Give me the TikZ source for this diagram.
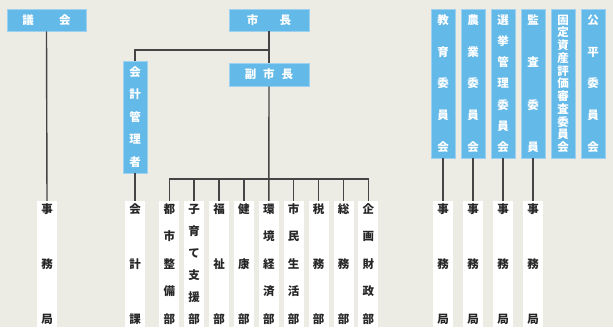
\documentclass[tikz,border=0pt]{standalone}
\usepackage{fontspec}
\newfontfamily\jp{Noto Sans CJK JP}
\definecolor{bg}{HTML}{EDECE4}
\definecolor{bl}{HTML}{63B9E8}
\definecolor{blb}{HTML}{9DD1EF}
\definecolor{ln}{HTML}{454545}
\ExplSyntaxOn
\tl_new:N \l_vs_chars_tl
\NewDocumentCommand\vstk{mm}{
  \tl_set:No \l_vs_chars_tl {#2}
  \vbox_to_ht:nn {#1} {
    \offinterlineskip
    \bool_set_true:N \l_tmpa_bool
    \tl_map_inline:Nn \l_vs_chars_tl {
      \bool_if:NF \l_tmpa_bool { \vfill }
      \bool_set_false:N \l_tmpa_bool
      \hbox_to_wd:nn {1em} { \hss \vrule~height~0.88em~depth~0.12em~width~0pt ##1 \hss }
    }
  }
}
\ExplSyntaxOff
\begin{document}
\begin{tikzpicture}[x=1pt,y=-1pt,
  font=\jp\bfseries\fontsize{11.5}{13}\selectfont,
  bluebox/.style={fill=bl,draw=blb,line width=0.6pt,text=white,inner sep=0pt,anchor=center},
  whitebox/.style={fill=white,draw=none,text=black!85,inner sep=0pt,anchor=center,minimum width=20pt},
  conn/.style={draw=ln,line width=1.4pt}]
\fill[bg] (0,0) rectangle (613,327);
\useasboundingbox (0,0) rectangle (613,327);

% top blue boxes
\node[bluebox,minimum width=79pt,minimum height=22pt] (gikai) at (46.5,20) {議\hspace{25.5pt}会};
\node[bluebox,minimum width=80pt,minimum height=22pt] (shicho) at (269,20) {市\hspace{21.5pt}長};
\node[bluebox,minimum width=80pt,minimum height=23pt] (fuku) at (269,74.5) {副\hspace{7pt}市\hspace{7pt}長};
\node[bluebox,minimum width=24pt,minimum height=112pt] (kanri) at (135,117) {\vstk{100.5pt}{会計管理者}};

% committees
\foreach \nm/\x/\t in {kyoiku/443/教育委員会, nogyo/473/農業委員会, senkyo/503/選挙管理委員会, kansa/533/監査委員, kotei/563/固定資産評価審査委員会, kohei/593/公平委員会}{
  \node[bluebox,minimum width=24pt,minimum height=149pt] (\nm) at (\x,83.5) {\vstk{137.5pt}{\t}};
}

% bottom white boxes
\foreach \nm/\x/\t in {jg/47/事務局, kaikeika/135/会計課, d1/169.3/都市整備部, d2/194.1/子育て支援部, d3/219/福祉部, d4/243.9/健康部, d5/268.8/環境経済部, d6/293.7/市民生活部, d7/318.6/税務部, d8/343.5/総務部, d9/368.4/企画財政部, j1/443/事務局, j2/473/事務局, j3/503/事務局, j4/533/事務局}{
  \node[whitebox,minimum height=126pt] (\nm) at (\x,264) {\vstk{120.5pt}{\t}};
}

% connectors
\draw[conn] (gikai.south) -- (jg.north);
\draw[conn] (shicho.south) -- (fuku.north);
\coordinate (br) at (269,50);
\draw[conn] (br) -| (kanri.north);
\draw[conn] (kanri.south) -- (kaikeika.north);
\draw[conn] (fuku.south) -- (d5.north);
\coordinate (bar) at (0,179);
\draw[conn] (d1.north) |- (bar -| d9.north) -- (d9.north);
\foreach \d in {d2,d3,d4,d6,d7,d8}{
  \draw[conn] (bar -| \d.north) -- (\d.north);
}
\draw[conn] (kyoiku.south) -- (j1.north);
\draw[conn] (nogyo.south) -- (j2.north);
\draw[conn] (senkyo.south) -- (j3.north);
\draw[conn] (kansa.south) -- (j4.north);
\end{tikzpicture}
\end{document}
